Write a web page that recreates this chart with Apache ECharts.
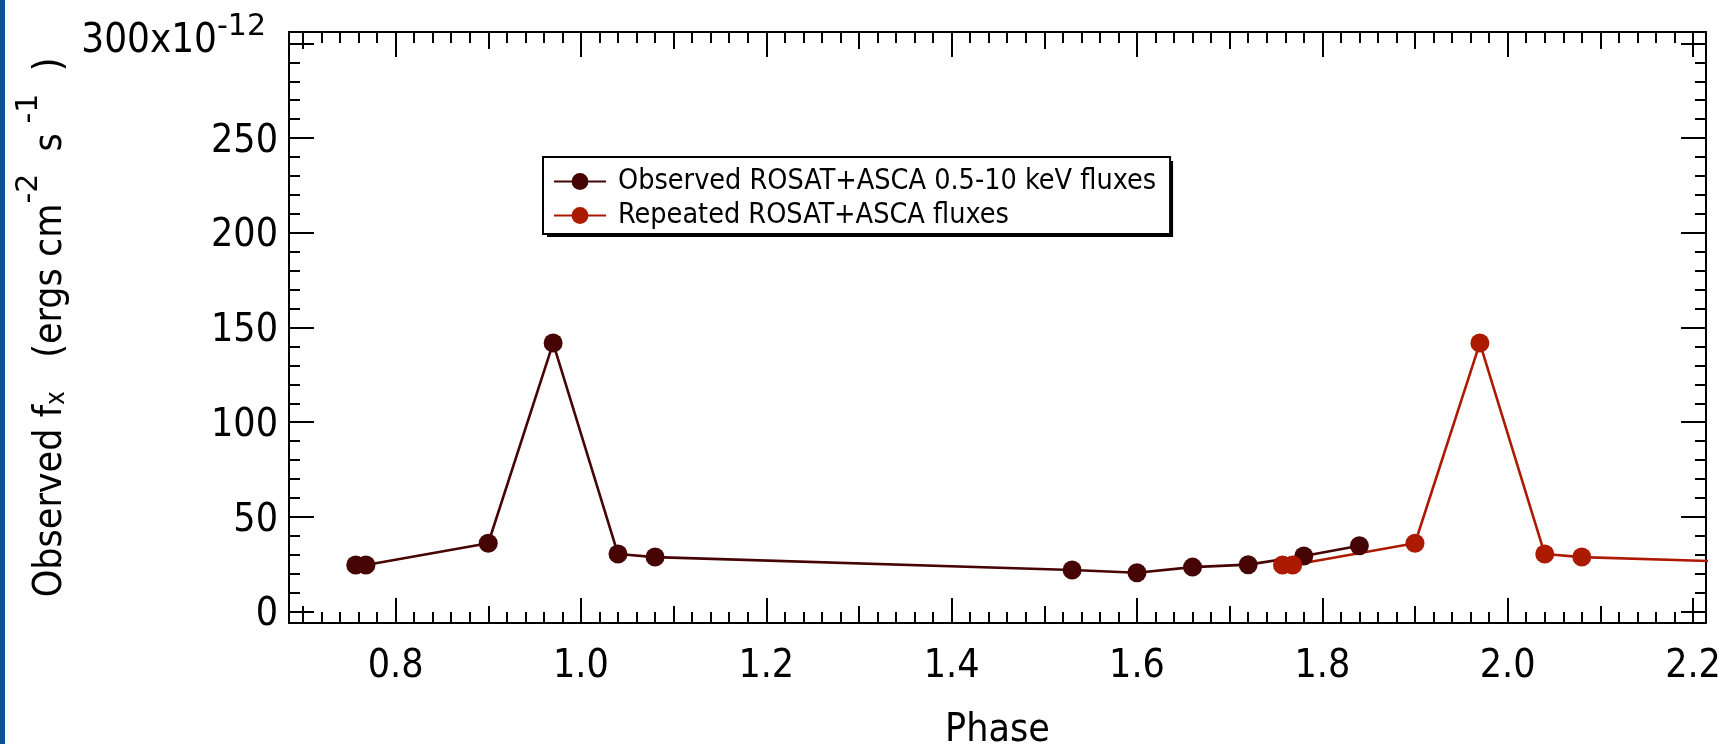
<!DOCTYPE html>
<html>
<head>
<meta charset="utf-8">
<script src="https://cdn.jsdelivr.net/npm/echarts@6.0.0/dist/echarts.min.js"></script>
<style>
html,body{margin:0;padding:0;background:#fff;}
#chart{width:1735px;height:744px;}
</style>
</head>
<body>
<div id="chart"></div>
<script>
// observed fluxes, units of 1e-12 ergs cm^-2 s^-1
var obsPhase = [0.757, 0.768, 0.900, 0.970, 1.040, 1.080, 1.530, 1.600, 1.660, 1.720, 1.780, 1.840];
var obsFlux  = [24.6, 24.6, 36.1, 141.8, 30.4, 28.8, 22.0, 20.5, 23.5, 24.8, 29.4, 34.8];
// same points, one phase later (last one falls outside the plot)
var repPhase = [1.757, 1.768, 1.900, 1.970, 2.040, 2.080, 2.530];
var repFlux  = [24.6, 24.6, 36.1, 141.8, 30.4, 28.8, 22.0];

var xTickLabels = ['0.8', '1.0', '1.2', '1.4', '1.6', '1.8', '2.0', '2.2'];
var yTickLabels = ['0', '50', '100', '150', '200', '250', '300'];

var obsName = 'Observed ROSAT+ASCA 0.5-10 keV fluxes';
var repName = 'Repeated ROSAT+ASCA fluxes';

var FONT = '"DejaVu Sans Condensed", "DejaVu Sans", sans-serif';
var SUPFONT = '"DejaVu Sans", sans-serif';
var XMIN = 0.685, XMAX = 2.214;
var YMIN = -6, YMAX = 306;
var black = '#000';

var dom = document.getElementById('chart');
var myChart = echarts.init(dom, null, {renderer: 'canvas'});

function xAxis(pos, split, len, withMinor, withLine) {
    return {
        type: 'value', position: pos, min: XMIN, max: XMAX, splitNumber: split,
        axisLine: {show: withLine, onZero: false, lineStyle: {color: black, width: 2}},
        axisTick: {show: true, inside: true, length: len, lineStyle: {color: black, width: 2}},
        minorTick: {show: withMinor, splitNumber: 10, length: 11, lineStyle: {color: black, width: 2}},
        axisLabel: {show: false},
        splitLine: {show: false}, minorSplitLine: {show: false}
    };
}
function yAxis(pos) {
    return {
        type: 'value', position: pos, min: YMIN, max: YMAX, splitNumber: 6,
        axisLine: {show: true, onZero: false, lineStyle: {color: black, width: 2}},
        axisTick: {show: true, inside: true, length: 25, lineStyle: {color: black, width: 2}},
        minorTick: {show: true, splitNumber: 5, length: 11, lineStyle: {color: black, width: 2}},
        axisLabel: {show: false},
        splitLine: {show: false}, minorSplitLine: {show: false}
    };
}

var xBottom = xAxis('bottom', 8, 25, true, true);
xBottom.axisLabel = {
    show: true, color: black, fontSize: 39, fontFamily: FONT, margin: 24,
    formatter: function (v) {
        var s = v.toFixed(1);
        return (Math.abs(v * 10 - Math.round(v * 10)) < 1e-6 && xTickLabels.indexOf(s) >= 0) ? s : '';
    }
};
xBottom.name = 'Phase';
xBottom.nameLocation = 'middle';
xBottom.nameGap = 88;
xBottom.nameTextStyle = {color: black, fontSize: 39, fontFamily: FONT};

var yLeft = yAxis('left');
yLeft.axisLabel = {
    show: true, color: black, fontSize: 39, fontFamily: FONT, margin: 11,
    padding: [7, 0, 0, 0],
    formatter: function (v) {
        var s = String(Math.round(v));
        if (Math.abs(v - Math.round(v)) > 1e-6 || yTickLabels.indexOf(s) < 0) return '';
        if (s === '300') return '{a|300x10}{s|-12}';
        return s;
    },
    rich: {
        a: {fontSize: 40, fontFamily: FONT, color: black, lineHeight: 70, verticalAlign: 'middle', padding: [0, 0, 10, 0]},
        s: {fontSize: 30, fontFamily: SUPFONT, color: black, lineHeight: 14, verticalAlign: 'top', padding: [0, 12, 0, 0]}
    }
};
yLeft.name = '{b|Observed f}{sub|x}{b|   (ergs cm}{sup|-2}{b|  s}{sup| -1}{b|  )}';
yLeft.nameLocation = 'middle';
yLeft.nameGap = 215;
yLeft.nameTextStyle = {
    color: black, fontFamily: FONT,
    rich: {
        b: {fontSize: 39, fontFamily: FONT, color: black, lineHeight: 56, verticalAlign: 'bottom'},
        sub: {fontSize: 26, fontFamily: FONT, color: black, lineHeight: 28, verticalAlign: 'bottom'},
        sup: {fontSize: 30, fontFamily: SUPFONT, color: black, lineHeight: 14, verticalAlign: 'top'}
    }
};

function pairs(xs, ys) {
    var out = [];
    for (var i = 0; i < xs.length; i++) out.push([xs[i], ys[i]]);
    return out;
}

// legend box size, used for its hard drop shadow
var LEG_FONT = '"DejaVu Sans Condensed", "DejaVu Sans", sans-serif';
var LEG_SIZE = 28.5;
var legPad = [10, 14, 4, 10];
var ctx = document.createElement('canvas').getContext('2d');
ctx.font = LEG_SIZE + 'px ' + LEG_FONT;
var legTextW = Math.max(ctx.measureText(obsName).width, ctx.measureText(repName).width);
var legW = legPad[3] + 52 + 5 + 7 + legTextW + legPad[1];
var legH = legPad[0] + LEG_SIZE * 2 + 5 + legPad[2];

var option = {
    animation: false,
    backgroundColor: '#fff',
    grid: {left: 289, top: 32, width: 1417, height: 591, containLabel: false, outerBoundsMode: 'none'},
    graphic: [
        {type: 'rect', left: 0, top: 0, shape: {width: 5, height: 744}, style: {fill: '#0c5096'}},
        {type: 'rect', left: 543 + 4, top: 157 + 4, z: 1, shape: {width: legW, height: legH}, style: {fill: black}}
    ],
    legend: {
        orient: 'vertical', left: 543, top: 157, z: 5,
        padding: legPad, itemGap: 5,
        itemWidth: 52, itemHeight: 21,
        backgroundColor: '#fff', borderColor: black, borderWidth: 2,
        textStyle: {color: black, fontSize: LEG_SIZE, fontFamily: LEG_FONT, padding: [0, 0, 0, 7]},
        data: [obsName, repName]
    },
    xAxis: [xBottom, xAxis('bottom', 15, 17, false, false), xAxis('top', 8, 25, true, true), xAxis('top', 15, 17, false, false)],
    yAxis: [yLeft, yAxis('right')],
    series: [
        {
            name: obsName, type: 'line', xAxisIndex: 0, yAxisIndex: 0,
            data: pairs(obsPhase, obsFlux),
            symbol: 'circle', symbolSize: 19, clip: true,
            lineStyle: {color: '#470404', width: 2.6},
            itemStyle: {color: '#470404'}
        },
        {
            name: repName, type: 'line', xAxisIndex: 0, yAxisIndex: 0,
            data: pairs(repPhase, repFlux),
            symbol: 'circle', symbolSize: 19, clip: true,
            lineStyle: {color: '#ad1a02', width: 2.6},
            itemStyle: {color: '#ad1a02'}
        }
    ]
};

myChart.setOption(option);
window.addEventListener('resize', myChart.resize);
</script>
</body>
</html>
